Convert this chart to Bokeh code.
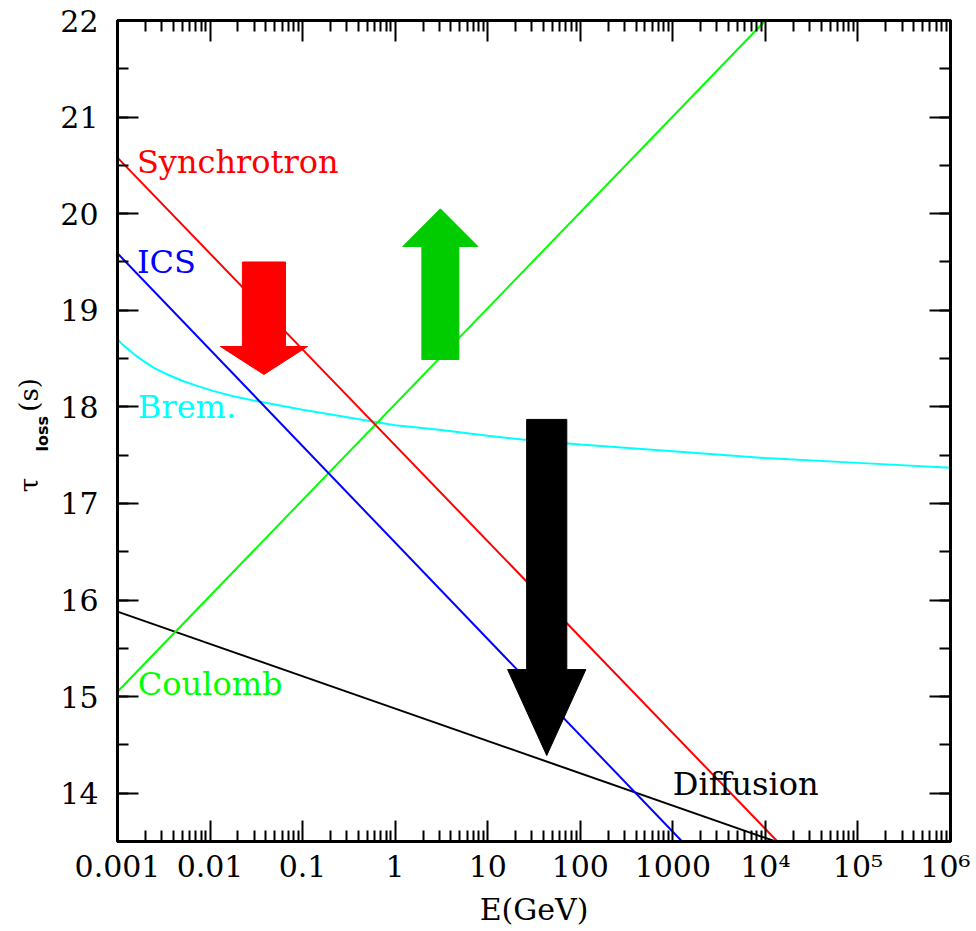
import numpy as np
from bokeh.plotting import figure
from bokeh.models import Range1d, FixedTicker, LogAxis, LinearAxis, ColumnDataSource
from bokeh.core.properties import value
from bokeh.embed import file_html
from bokeh.resources import INLINE

# ---- data: E in GeV, loss time as log10(tau / s) ----
sync_E = [1e-3, 1.35e4]
sync_tau = [20.58, 13.5]
ics_E = [1e-3, 1.26e3]
ics_tau = [19.59, 13.5]
coul_E = [1e-3, 1.0e4]
coul_tau = [15.05, 22.0]
diff_E = [1e-3, 1.29e4]
diff_tau = [15.88, 13.5]
brem_E = [1e-3, 1.12e-3, 1.26e-3, 1.58e-3, 2.0e-3, 2.51e-3, 3.55e-3, 5.01e-3, 7.08e-3, 1.12e-2,
          1.78e-2, 3.16e-2, 0.1, 0.316, 1.0, 3.16, 10.0, 31.6, 100.0, 1e3, 1e4, 1e5, 1e6]
brem_tau = [18.70, 18.65, 18.61, 18.53, 18.46, 18.40, 18.33, 18.27, 18.22, 18.16,
            18.11, 18.06, 17.97, 17.89, 17.81, 17.76, 17.70, 17.65, 17.61,
            17.54, 17.47, 17.42, 17.37]

# arrows: centre energy, tail, head base, tip (log10 tau)
arrow_E = [0.0382, 3.08, 43.4]
arrow_tail = [19.50, 18.49, 17.87]
arrow_base = [18.625, 19.66, 15.28]
arrow_tip = [18.335, 20.05, 14.39]
arrow_shaft_hw = [0.233, 0.200, 0.217]   # half widths in decades
arrow_head_hw = [0.471, 0.406, 0.4225]
arrow_colors = ["#ff0000", "#00cc00", "#000000"]

# in-plot labels
lab_text = ["Synchrotron", "ICS", "Brem.", "Coulomb", "Diffusion"]
lab_E = [1.62e-3, 1.62e-3, 1.66e-3, 1.66e-3, 1000.0]
lab_tau = [20.54, 19.50, 18.00, 15.13, 14.10]
lab_color = ["#ff0000", "#0000ff", "#00ffff", "#00ff00", "#000000"]

x_ticks = [1e-3, 1e-2, 1e-1, 1.0, 10.0, 100.0, 1000.0, 1e4, 1e5, 1e6]
x_tick_labels = ["0.001", "0.01", "0.1", "1", "10", "100", "1000", "10\u2074", "10\u2075", "10\u2076"]
y_ticks = [14, 15, 16, 17, 18, 19, 20, 21, 22]

x_minor = [k * 10.0 ** d for d in range(-3, 6) for k in range(2, 10)]
y_minor = [13.5 + i * 0.5 for i in range(18)]

NB = "\u00a0"

p = figure(width=970, height=930, x_axis_type="log",
           x_range=Range1d(1e-3, 1e6), y_range=Range1d(13.5, 22.0),
           output_backend="svg", toolbar_location=None,
           min_border_left=117, min_border_right=20, min_border_top=20, min_border_bottom=89)
p.grid.visible = False
p.outline_line_color = "black"
p.outline_line_width = 3
p.background_fill_color = "white"
p.border_fill_color = "white"

xt = FixedTicker(ticks=x_ticks, minor_ticks=x_minor)
yt = FixedTicker(ticks=y_ticks, minor_ticks=y_minor)

def style(ax, labels=True):
    ax.axis_line_width = 3
    ax.axis_line_color = "black"
    ax.major_tick_in = 21
    ax.major_tick_out = 0
    ax.minor_tick_in = 11
    ax.minor_tick_out = 0
    ax.major_tick_line_width = 2
    ax.minor_tick_line_width = 2
    ax.major_tick_line_color = "black"
    ax.minor_tick_line_color = "black"
    if labels:
        ax.major_label_text_font = "DejaVu Serif"
        ax.major_label_text_font_size = "30px"
        ax.major_label_text_color = "black"
    else:
        ax.major_label_text_font_size = "1px"
        ax.major_label_text_color = None
        ax.major_label_standoff = 0

xa = p.xaxis[0]
xa.ticker = xt
xa.major_label_overrides = {t: s for t, s in zip(x_ticks, x_tick_labels)}
style(xa)
xa.major_label_standoff = 7
xa.axis_label = "E(GeV)"
xa.axis_label_text_font = "DejaVu Serif"
xa.axis_label_text_font_size = "30px"
xa.axis_label_text_font_style = "normal"
xa.axis_label_text_color = "black"
xa.axis_label_standoff = 5

ya = p.yaxis[0]
ya.ticker = yt
style(ya)
ya.major_label_standoff = 19
# subscript "loss" as the main axis' title, shifted down with trailing spaces
ya.axis_label = "loss" + NB
ya.axis_label_text_font = "DejaVu Sans"
ya.axis_label_text_font_style = "bold"
ya.axis_label_text_font_size = "16px"
ya.axis_label_text_color = "black"
ya.axis_label_standoff = 5

top = LogAxis(ticker=xt)
style(top, labels=False)
p.add_layout(top, "above")
right = LinearAxis(ticker=yt)
style(right, labels=False)
p.add_layout(right, "right")

# outer title axis: "τ   (s)"
ttl = LinearAxis(ticker=FixedTicker(ticks=[]), axis_line_color=None,
                 major_tick_line_color=None, minor_tick_line_color=None,
                 major_label_text_font_size="1px", major_label_standoff=0,
                 major_tick_in=0, major_tick_out=0, minor_tick_in=0, minor_tick_out=0)
ttl.axis_label = "\u03c4" + NB * 8 + "(s)" + NB
ttl.axis_label_text_font = "DejaVu Serif"
ttl.axis_label_text_font_size = "26px"
ttl.axis_label_text_font_style = "normal"
ttl.axis_label_text_color = "black"
ttl.axis_label_standoff = -13
p.add_layout(ttl, "left")

p.line(brem_E, brem_tau, line_color="#00ffff", line_width=2)
p.line(diff_E, diff_tau, line_color="#000000", line_width=2)
p.line(coul_E, coul_tau, line_color="#00ff00", line_width=2)
p.line(ics_E, ics_tau, line_color="#0000ff", line_width=2)
p.line(sync_E, sync_tau, line_color="#ff0000", line_width=2)

xs, ys = [], []
for E, t0, tb, t1, s, h in zip(arrow_E, arrow_tail, arrow_base, arrow_tip, arrow_shaft_hw, arrow_head_hw):
    xs.append([E * 10 ** -s, E * 10 ** s, E * 10 ** s, E * 10 ** h, E, E * 10 ** -h, E * 10 ** -s])
    ys.append([t0, t0, tb, tb, t1, tb, tb])
p.patches(xs, ys, fill_color=arrow_colors, line_color=arrow_colors, line_width=1)

src = ColumnDataSource(dict(x=lab_E, y=lab_tau, text=lab_text, color=lab_color))
p.text(x="x", y="y", text="text", text_color="color", source=src,
       text_font=value("DejaVu Serif"), text_font_size="32px",
       text_align="left", text_baseline="alphabetic")

open("out.html", "w").write(file_html(p, INLINE))
